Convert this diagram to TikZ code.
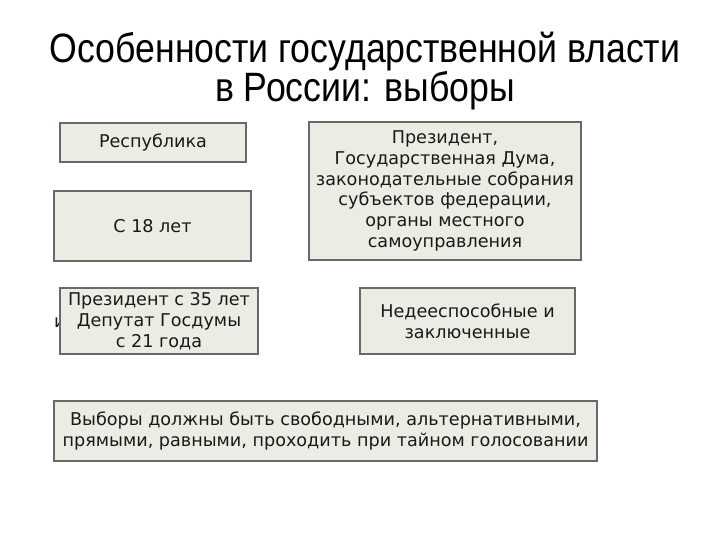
\documentclass[tikz,border=0pt]{standalone}
\usepackage{fontspec}
\setmainfont{DejaVu Sans}
\newfontfamily\titlefont[FakeStretch=0.87]{Liberation Sans}
\usepackage{xcolor}
\definecolor{boxfill}{RGB}{237,236,228}
\definecolor{boxline}{RGB}{105,105,105}
\definecolor{boxtext}{RGB}{25,25,25}

\begin{document}
\begin{tikzpicture}[x=1pt, y=-1pt,
    infobox/.style={draw=boxline, fill=boxfill, line width=1.2pt, align=center,
        inner sep=0pt, text=boxtext, font=\fontsize{17.6}{20.8}\selectfont}]
\useasboundingbox (0,0) rectangle (720,540);
\node[align=center, font=\titlefont\fontsize{41}{39.5}\selectfont] (title) at (365,71)
    {Особенности государственной власти\\в России: выборы};
% hidden text behind the third box
\node[anchor=west, inner sep=0pt, text=boxtext, font=\fontsize{17.6}{20.8}\selectfont] (hid) at (54,323) {и};
\node[infobox, minimum width=186, minimum height=39] (rep) at (153,142.5) {Республика};
\node[infobox, minimum width=197, minimum height=70] (age) at (152.5,226) {С 18 лет};
\node[infobox, minimum width=198, minimum height=66] (cand) at (159,321)
    {Президент с 35 лет\\Депутат Госдумы\\с 21 года};
\node[infobox, minimum width=272, minimum height=138] (organs) at (445,191)
    {Президент,\\Государственная Дума,\\законодательные собрания\\субъектов федерации,\\органы местного\\самоуправления};
\node[infobox, minimum width=215, minimum height=66] (excl) at (467.5,321)
    {Недееспособные и\\заключенные};
\node[infobox, minimum width=543, minimum height=60] (rules) at (325.5,431)
    {Выборы должны быть свободными, альтернативными,\\прямыми, равными, проходить при тайном голосовании};
\end{tikzpicture}
\end{document}
